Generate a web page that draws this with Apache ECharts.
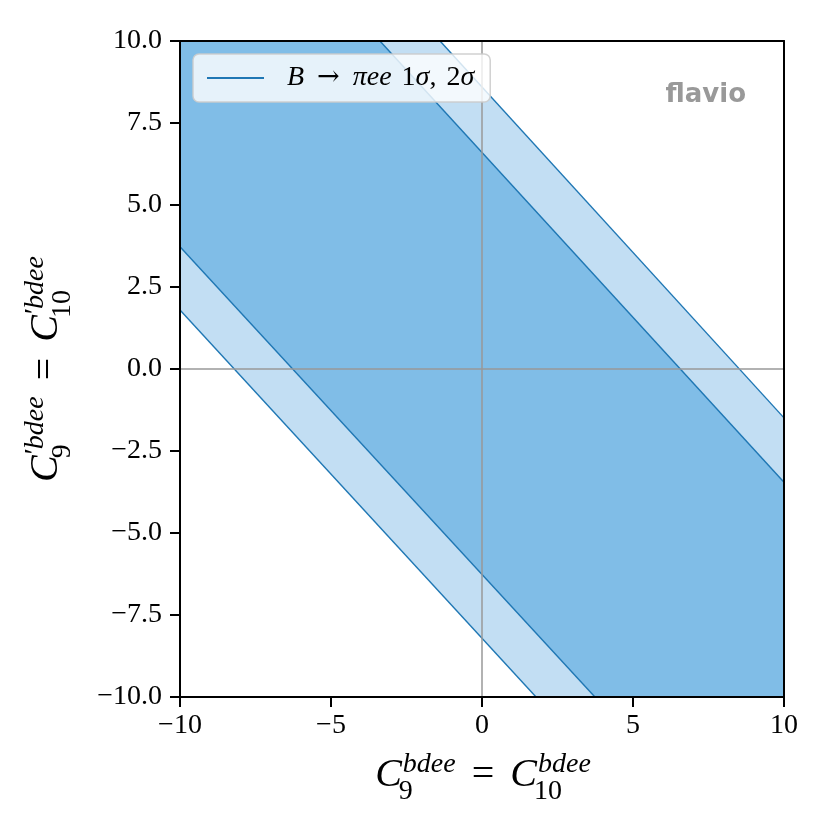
<!DOCTYPE html>
<html>
<head>
<meta charset="utf-8">
<script src="https://cdn.jsdelivr.net/npm/echarts@6/dist/echarts.min.js"></script>
<style>html,body{margin:0;padding:0;background:#fff}#chart{width:830px;height:830px}</style>
</head>
<body>
<div id="chart"></div>
<script>
// ---- data ----
const xRange = [-10, 10];
const yRange = [-10, 10];
const xTicks = [-10, -5, 0, 5, 10];
const yTicks = [-10, -7.5, -5, -2.5, 0, 2.5, 5, 7.5, 10];
const legendName = 'B → πee 1σ, 2σ';
// contour boundary lines [C9=C10, C9'=C10']
const sigma2Upper = [[-1.39, 10], [10, -1.49]];
const sigma1Upper = [[-3.38, 10], [10, -3.45]];
const sigma1Lower = [[-10, 3.73], [3.74, -10]];
const sigma2Lower = [[-10, 1.80], [1.79, -10]];

// ---- build band polygons from contours and axis bounds ----
function bandPolygon(upper, lower) {
  return [[xRange[0], yRange[1]], ...upper, [xRange[1], yRange[0]], ...lower.slice().reverse()];
}
const bands = [bandPolygon(sigma2Upper, sigma2Lower), bandPolygon(sigma1Upper, sigma1Lower)];
const bandColors = ['#c2def3', '#80bde7'];

const chart = echarts.init(document.getElementById('chart'), null, {renderer: 'canvas'});
const minus = v => (v < 0 ? '\u2212' : '') + Math.abs(v);

// ---- TeX-like label layout ----
const mctx = document.createElement('canvas').getContext('2d');
function tw(text, font) { mctx.font = font; return mctx.measureText(text).width; }
const SERIF = '"Liberation Serif", "DejaVu Serif", serif';
function mathLabel(parts, main, script) {
  const fIt = `italic ${main}px ${SERIF}`, fRm = `${main}px ${SERIF}`;
  const sIt = `italic ${script}px ${SERIF}`, sRm = `${script}px ${SERIF}`;
  const items = [];
  let x = 0;
  const k = 0.34;
  const add = (text, font, size, px, base) => items.push({text, font, x: px, y: base - k * size});
  parts.forEach(p => {
    if (p.op) {
      x += 0.4 * main;
      add(p.t, fRm, main, x, 0);
      x += tw(p.t, fRm) + 0.4 * main;
    } else {
      add(p.t, fIt, main, x, 0);
      x += tw(p.t, fIt);
      let supX = x + 1, supEnd = supX;
      if (p.prime) { add('\u2032', sRm, script, supX, -0.36 * main); supX += tw('\u2032', sRm) - 1; }
      add(p.sup, sIt, script, supX, -0.36 * main);
      supEnd = supX + tw(p.sup, sIt);
      const subX = x - 3;
      add(p.sub, sRm, script, subX, 0.3 * main);
      x = Math.max(supEnd, subX + tw(p.sub, sRm));
    }
  });
  const W = x;
  return items.map(it => ({
    type: 'text', x: it.x - W / 2, y: it.y,
    style: {text: it.text, font: it.font, fill: '#000', align: 'left', verticalAlign: 'middle',
            textAlign: 'left', textVerticalAlign: 'middle'}
  }));
}
const xLabelParts = [{t: 'C', sup: 'bdee', sub: '9'}, {t: '=', op: true}, {t: 'C', sup: 'bdee', sub: '10'}];
const yLabelParts = [{t: 'C', prime: true, sup: 'bdee', sub: '9'}, {t: '=', op: true}, {t: 'C', prime: true, sup: 'bdee', sub: '10'}];

const axisFont = {fontFamily: SERIF, fontSize: 28, color: '#000'};
const frameLine = {show: true, onZero: false, lineStyle: {color: '#000', width: 2}};

const contourSeries = [sigma2Upper, sigma1Upper, sigma1Lower, sigma2Lower].map((pts, i) => ({
  type: 'line', name: legendName, data: pts, showSymbol: false, symbol: 'none', clip: true,
  silent: true, z: 3,
  itemStyle: {color: '#1f77b4'},
  lineStyle: {color: '#1f77b4', width: 1.4},
  markLine: i === 0 ? {
    silent: true, symbol: 'none', label: {show: false},
    lineStyle: {color: '#999999', width: 1.5, type: 'solid'},
    data: [{xAxis: 0}, {yAxis: 0}]
  } : undefined
}));

chart.setOption({
  animation: false,
  backgroundColor: '#fff',
  grid: {left: 180, right: 46, top: 41, bottom: 133, show: false},
  xAxis: [{
    type: 'value', min: xRange[0], max: xRange[1], interval: 5, z: 10,
    axisLine: frameLine,
    axisTick: {show: true, inside: false, length: 10, lineStyle: {color: '#000', width: 2}},
    axisLabel: Object.assign({margin: 15, formatter: v => minus(v)}, axisFont),
    splitLine: {show: false}
  }, {
    type: 'value', position: 'top', min: xRange[0], max: xRange[1], interval: 5, z: 10,
    axisLine: frameLine, axisTick: {show: false}, axisLabel: {show: false}, splitLine: {show: false}
  }],
  yAxis: [{
    type: 'value', min: yRange[0], max: yRange[1], interval: 2.5, z: 10,
    axisLine: frameLine,
    axisTick: {show: true, inside: false, length: 10, lineStyle: {color: '#000', width: 2}},
    axisLabel: Object.assign({margin: 18, formatter: v => (v < 0 ? '\u2212' : '') + Math.abs(v).toFixed(1)}, axisFont),
    splitLine: {show: false}
  }, {
    type: 'value', position: 'right', min: yRange[0], max: yRange[1], interval: 2.5, z: 10,
    axisLine: frameLine, axisTick: {show: false}, axisLabel: {show: false}, splitLine: {show: false}
  }],
  legend: {
    data: [legendName], left: 193, top: 54, selectedMode: false,
    icon: 'rect', itemWidth: 57, itemHeight: 2,
    padding: [9, 16, 9, 14],
    backgroundColor: 'rgba(255,255,255,0.8)', borderColor: 'rgba(204,204,204,0.9)', borderWidth: 1.5, borderRadius: 6,
    formatter: () => '{pad|}{i|B}{s|}{a|→}{s|}{i|πee}{s2|}{r|1}{i|σ}{r|,}{s2|}{r|2}{i|σ}',
    textStyle: {
      fontFamily: SERIF, fontSize: 28, color: '#000', lineHeight: 30,
      rich: {
        pad: {width: 18},
        s: {width: 13},
        s2: {width: 10},
        a: {fontFamily: '"DejaVu Serif", serif', fontSize: 27, color: '#000', lineHeight: 30},
        i: {fontFamily: SERIF, fontStyle: 'italic', fontSize: 28, color: '#000', lineHeight: 30},
        r: {fontFamily: SERIF, fontSize: 28, color: '#000', lineHeight: 30}
      }
    },
    z: 20
  },
  graphic: [
    {type: 'group', x: 483, y: 789, children: mathLabel(xLabelParts, 40, 28)},
    {type: 'group', x: 60, y: 369, rotation: Math.PI / 2, children: mathLabel(yLabelParts, 40, 28)},
    {type: 'text', x: 746, y: 95, z: 20,
     style: {text: 'flavio', font: 'bold 26px "DejaVu Sans", sans-serif', fill: '#999999',
             align: 'right', verticalAlign: 'middle', textAlign: 'right', textVerticalAlign: 'middle'}}
  ],
  series: [{
    type: 'custom', name: 'bands', silent: true, clip: true, z: 1,
    data: bands.map((b, i) => [0, 0, i]),
    renderItem: (params, api) => ({
      type: 'polygon',
      shape: {points: bands[params.dataIndex].map(p => api.coord(p))},
      style: {fill: bandColors[params.dataIndex], stroke: null}
    })
  }, ...contourSeries]
});
</script>
</body>
</html>
